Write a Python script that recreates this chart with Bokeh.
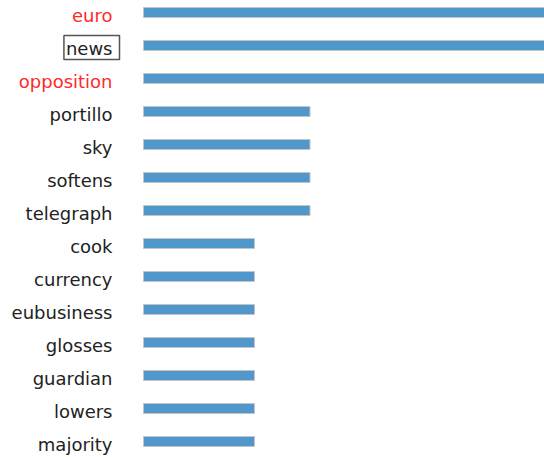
from bokeh.plotting import figure
from bokeh.models import ColumnDataSource, Range1d
from bokeh.core.properties import value
from bokeh.embed import file_html
from bokeh.resources import INLINE

words = ["euro", "news", "opposition", "portillo", "sky", "softens", "telegraph",
         "cook", "currency", "eubusiness", "glosses", "guardian", "lowers", "majority"]
counts = [8, 8, 8, 3, 3, 3, 3, 2, 2, 2, 2, 2, 2, 2]
label_colors = ["#ff2a2a", "#222222", "#ff2a2a"] + ["#222222"] * 11
label_borders = [None, "#555555"] + [None] * 12

W, H = 544, 457
zero_px = 143          # pixel of value 0 inside the canvas
unit_px = 55.5         # pixels per count
row_px = 33            # pixels per row
top_px = 12            # centre of first row

n = len(words)
src = ColumnDataSource(dict(
    y=list(range(n)), count=counts, word=words,
    color=label_colors, border=label_borders,
))

p = figure(width=W, height=H, output_backend="svg", toolbar_location=None,
           min_border=0, min_border_left=0, min_border_right=0,
           min_border_top=0, min_border_bottom=0,
           x_range=Range1d(-zero_px / unit_px, (W - zero_px) / unit_px),
           y_range=Range1d((n - 1) + (H - top_px - (n - 1) * row_px) / row_px,
                           -top_px / row_px))
p.axis.visible = False
p.grid.visible = False
p.outline_line_color = None
p.background_fill_color = "white"
p.border_fill_color = "white"

p.hbar(y="y", left=0, right="count", height=10 / row_px, source=src,
       fill_color="#5097cb", line_color="#c4c4c4", line_width=1)

p.text(x=0, y="y", text="word", source=src, x_offset=-24, y_offset=2,
       text_align="right", text_baseline="middle",
       text_font=value("DejaVu Sans"), text_font_size="18px",
       text_color="color", border_line_color="border", border_line_width=1.5,
       padding=(2, 7, 2, 1))

open("out.html", "w").write(file_html(p, INLINE))
